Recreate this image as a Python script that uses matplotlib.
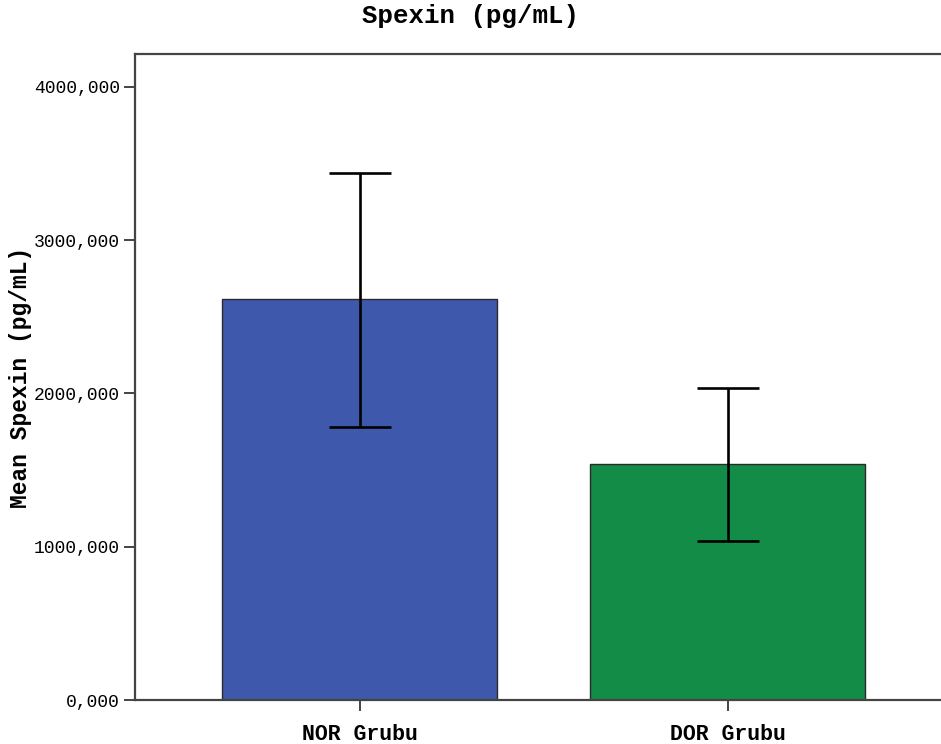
import matplotlib

matplotlib.use("Agg")
import matplotlib.pyplot as plt

groups = ["NOR Grubu", "DOR Grubu"]
means = [2619, 1541]
err_low = [1783, 1039]
err_high = [3436, 2038]
yticks = [0, 1000, 2000, 3000, 4000]
ytick_labels = ["0,000", "1000,000", "2000,000", "3000,000", "4000,000"]
colors = ["#3e58ab", "#138c47"]

FONT = "Liberation Mono"
SPINE = "#444444"

fig = plt.figure(figsize=(9.41, 7.44), dpi=100)
ax = fig.add_axes([135 / 941, 44 / 744, 806 / 941, 646 / 744])

x = list(range(len(groups)))
ax.bar(x, means, width=0.747, color=colors, edgecolor="#2a2a2a", linewidth=1.0, zorder=2)
yerr = [[m - lo for m, lo in zip(means, err_low)], [hi - m for m, hi in zip(means, err_high)]]
ax.errorbar(x, means, yerr=yerr, fmt="none", ecolor="black", elinewidth=1.9,
            capsize=22, capthick=1.9, zorder=3)

ax.set_xlim(-0.611, 1.579)
ax.set_ylim(0, 4215)
ax.set_xticks(x)
ax.set_xticklabels(groups, fontfamily=FONT, fontweight="bold", fontsize=15.5)
ax.set_yticks(yticks)
ax.set_yticklabels(ytick_labels, fontfamily=FONT, fontsize=13)
ax.tick_params(axis="both", direction="out", length=8, width=1.4, color=SPINE, pad=3)
ax.tick_params(axis="x", pad=9)

ax.spines["right"].set_visible(False)
for s in ["left", "bottom", "top"]:
    ax.spines[s].set_color(SPINE)
    ax.spines[s].set_linewidth(1.6)

ax.set_ylabel("Mean Spexin (pg/mL)", fontfamily=FONT, fontweight="bold", fontsize=16.5,
              va="center")
ax.yaxis.set_label_coords(-115 / 806, 0.5)
fig.text(0.5, 1 - 16 / 744, "Spexin (pg/mL)", ha="center", va="center",
         fontfamily=FONT, fontweight="bold", fontsize=18.5)

fig.savefig("out.png", dpi=100)
